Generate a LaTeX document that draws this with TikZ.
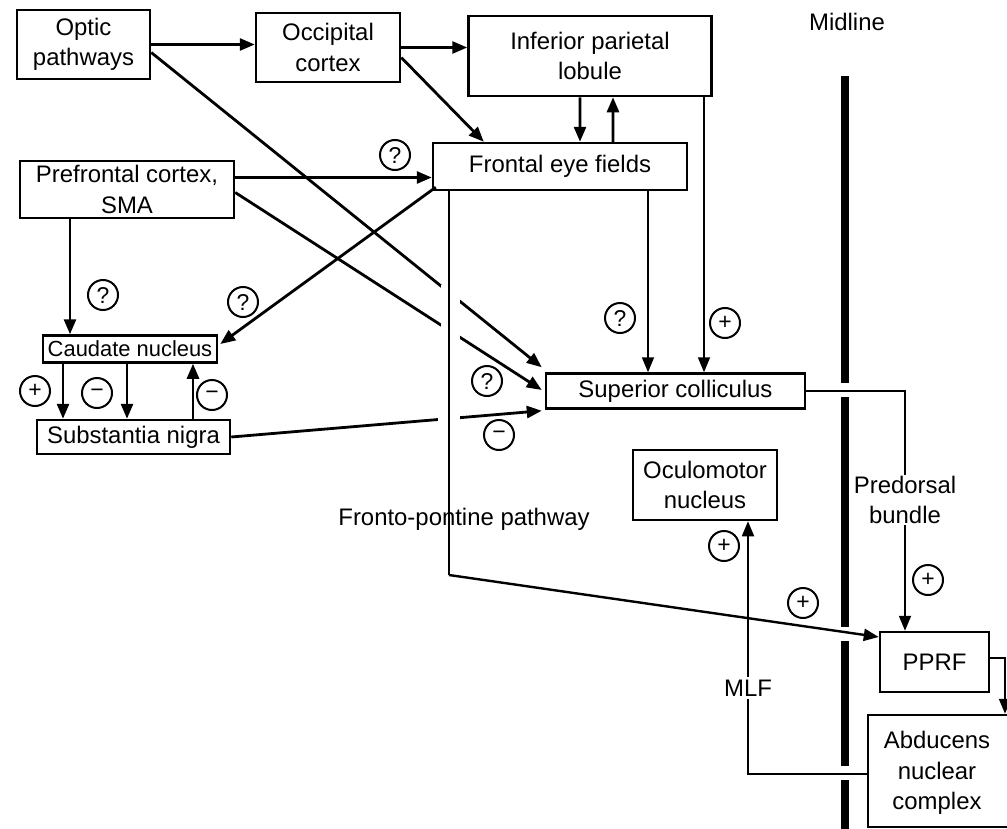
\documentclass[tikz,border=0pt]{standalone}
\usepackage{fontspec}
\setmainfont{Liberation Sans}
\usetikzlibrary{arrows.meta,calc}
\begin{document}
\begin{tikzpicture}[x=1bp,y=-1bp,
  box/.style={draw, line width=2.5bp, inner sep=0pt, align=center,
    font=\fontsize{24}{30.5}\selectfont},
  lbl/.style={inner sep=1bp, align=center, font=\fontsize{24}{30.5}\selectfont},
  arr/.style={-{Triangle[length=15bp,width=12bp]}, line width=2.8bp},
  tarr/.style={-{Triangle[length=15bp,width=12bp]}, line width=1.8bp},
  sign/.style={circle, draw, line width=2bp, minimum size=30bp, inner sep=0pt,
    font=\fontsize{23}{23}\selectfont},
]
\useasboundingbox (0,0) rectangle (1007,829);
\fill[white] (0,0) rectangle (1007,829);

% boxes
\node[box, minimum width=133bp, minimum height=69bp] (optic) at (83.5,44.5) {Optic\\pathways};
\node[box, minimum width=144bp, minimum height=69bp] (occip) at (328,47.5) {Occipital\\cortex};
\node[box, minimum width=243bp, minimum height=80bp] (ipl) at (590,56) {Inferior parietal\\lobule};
\node[box, minimum width=254bp, minimum height=47bp] (fef) at (560,166.5) {Frontal eye fields};
\node[box, minimum width=214bp, minimum height=57bp] (pfc) at (127,189.5) {Prefrontal cortex,\\SMA};
\node[box, minimum width=174bp, minimum height=27bp, font=\fontsize{22}{24}\selectfont] (caud) at (130,349) {Caudate nucleus};
\node[box, minimum width=193bp, minimum height=34bp] (sn) at (133.5,437) {Substantia nigra};
\node[box, minimum width=259bp, minimum height=35bp] (sc) at (675.5,391) {Superior colliculus};
\node[box, minimum width=144bp, minimum height=70bp] (ocm) at (705,485) {Oculomotor\\nucleus};
\node[box, minimum width=109bp, minimum height=60bp] (pprf) at (934.5,662) {PPRF};
\node[box, minimum width=160bp, minimum height=112bp] (abd) at (948,771) {};
\node[lbl] (abdt) at (937,773) {Abducens\\nuclear\\complex};

% midline
\node[lbl] (mid) at (847,22) {Midline};
\foreach \a/\b in {76/383, 397/627, 641/766, 780/829}
  \draw[line width=8bp] (845,\a) -- (845,\b);

% cortical connections
\draw[arr] (optic.east) -- (optic.east -| occip.west);
\draw[arr] (occip.east) -- (occip.east -| ipl.west);
\draw[arr] ([yshift=-10bp]occip.east) -- ([xshift=52bp]fef.north west);
\draw[arr] ([xshift=-10bp]ipl.south) -- ([xshift=20bp]fef.north);
\draw[arr] ([xshift=53bp]fef.north) -- ([xshift=23bp]ipl.south);
\draw[arr] ([yshift=12bp]pfc.east) coordinate (pe) -- (pe -| fef.west);
\draw[arr] ([xshift=-57bp]pfc.south) coordinate (pc) -- (pc |- caud.north);
\draw[arr] ([xshift=4bp,yshift=4bp]fef.south west) -- ([xshift=2bp,yshift=5bp]caud.east);

% inputs to the superior colliculus
\draw[arr] ([yshift=-8bp]optic.east) -- ([xshift=-3bp,yshift=5bp]sc.north west);
\draw[arr] ([yshift=-3bp]pfc.east) -- ([xshift=-3bp,yshift=1bp]sc.west);
\draw[arr] (sn.east) -- ([xshift=-3bp,yshift=-1bp]sc.south west);
\draw[tarr] ([xshift=88bp]fef.south) coordinate (fs) -- (fs |- sc.north);
\draw[tarr] ([xshift=114bp]ipl.south) coordinate (is) -- (is |- sc.north);

% basal ganglia loop
\draw[arr] ([xshift=-67bp]caud.south) coordinate (c1) -- (c1 |- sn.north);
\draw[arr] ([xshift=-3bp]caud.south) coordinate (c2) -- (c2 |- sn.north);
\draw[arr] ([xshift=59.5bp]sn.north) coordinate (s1) -- (s1 |- caud.south);

% fronto-pontine pathway
\fill[white] (441,285) rectangle (460,345);
\fill[white] (438,412) rectangle (460,432);
\coordinate (fp) at ([xshift=-111bp]fef.south |- 0,575);
\draw[line width=2.2bp] ([xshift=-111bp]fef.south) -- (fp);
\draw[arr, line width=2.4bp] (fp) -- ([yshift=25bp]pprf.west);
\node[lbl] (fpl) at (464,519) {Fronto-pontine pathway};

% brainstem connections
\draw[tarr] (sc.east) -| ([xshift=-29.5bp]pprf.north);
\node[lbl, fill=white] (pdb) at (905,500) {Predorsal\\bundle};
\draw[tarr] ([yshift=4bp]pprf.east) -| ([xshift=57bp]abd.north);
\draw[tarr] ([yshift=-3bp]abd.west) -| ([xshift=43bp]ocm.south);
\node[lbl, fill=white, inner sep=3bp] (mlf) at (748,688) {MLF};

% signs
\node[sign] (q1) at (395,155) {?};
\node[sign] (q2) at (103,295) {?};
\node[sign] (q3) at (243,302) {?};
\node[sign] (q4) at (620,318) {?};
\node[sign] (p1) at (725,323) {+};
\node[sign] (q5) at (487,381) {?};
\node[sign] (m1) at (499,435) {−};
\node[sign] (p2) at (35,391) {+};
\node[sign] (m2) at (97,393) {−};
\node[sign] (m3) at (212,395) {−};
\node[sign] (p3) at (724,546) {+};
\node[sign] (p4) at (803,603) {+};
\node[sign] (p5) at (928,580) {+};
\end{tikzpicture}
\end{document}
